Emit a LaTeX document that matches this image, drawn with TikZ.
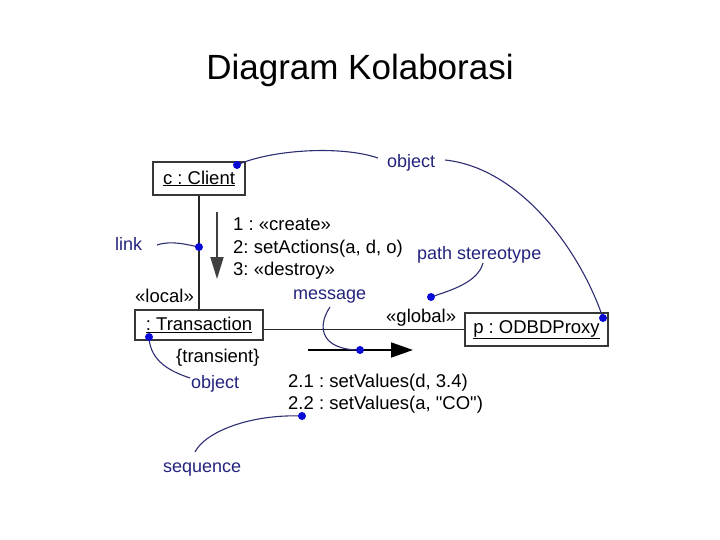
\documentclass[tikz,border=0pt]{standalone}
\usepackage{fontspec}
\setmainfont{Liberation Sans}
\usetikzlibrary{arrows.meta}
\definecolor{boxgray}{RGB}{55,55,55}
\definecolor{notecol}{RGB}{35,35,125}
\definecolor{curvecol}{RGB}{45,45,115}
\definecolor{dotcol}{RGB}{10,10,215}
\frenchspacing
\begin{document}
\begin{tikzpicture}[x=1pt,y=-1pt,
  objbox/.style={draw=boxgray, line width=1.3pt, inner sep=0pt, font=\fontsize{18.5}{22}\selectfont},
  note/.style={text=notecol, inner sep=0pt, font=\fontsize{18}{22}\selectfont},
  txt/.style={inner sep=0pt, font=\fontsize{18.5}{22}\selectfont},
  lnk/.style={line width=1.8pt, draw=black!85},
  ann/.style={draw=curvecol, line width=1.1pt},
  dotmark/.style={fill=dotcol}
]
\useasboundingbox (0,0) rectangle (720,540);
% title
\node[inner sep=0pt, anchor=base, font=\fontsize{35}{40}\selectfont] (title) at (360,80) {Diagram Kolaborasi};

% objects
\node[objbox, minimum width=92pt, minimum height=33pt] (client) at (199,178.5) {\underline{c : Client}};
\node[objbox, minimum width=128pt, minimum height=30pt] (trans) at (199,325) {\underline{: Transaction}};
\node[objbox, minimum width=143pt, minimum height=33pt] (proxy) at (536.5,329.5) {\underline{p : ODBDProxy}};

% links
\draw[lnk] (client.south) -- (trans.north);
\draw[lnk] (trans.east |- proxy.west) -- (proxy.west);

% message arrows
\coordinate (m1s) at (217,212);
\coordinate (m1e) at (217,279);
\draw[line width=1.8pt, draw=black!75, -{Triangle[length=22pt,width=13pt]}] (m1s) -- (m1e);
\coordinate (m2s) at (308,350);
\coordinate (m2e) at (413,350);
\draw[line width=1.8pt, -{Triangle[length=22pt,width=15pt]}] (m2s) -- (m2e);

% message texts
\node[txt, anchor=base west] (t1) at (233,230.5) {1 : «create»};
\node[txt, anchor=base west] (t2) at (233,253) {2: setActions(a, d, o)};
\node[txt, anchor=base west] (t3) at (233,275) {3: «destroy»};
\node[txt, anchor=base west] (t4) at (288,387) {2.1 : setValues(d, 3.4)};
\node[txt, anchor=base west] (t5) at (288,409) {2.2 : setValues(a, \textquotedbl CO\textquotedbl)};

% role / stereotype texts
\node[txt, anchor=base west] (local) at (135,302) {«local»};
\node[txt, anchor=base west] (global) at (386,322) {«global»};
\node[txt, anchor=base west] (transient) at (176,362) {\{transient\}};

% annotation labels
\node[note, anchor=base west] (objtop) at (387,168) {object};
\node[note, anchor=base west] (link) at (115,251) {link};
\node[note, anchor=base west] (path) at (417,259) {path stereotype};
\node[note, anchor=base west] (msg) at (293,299) {message};
\node[note, anchor=base west] (objlow) at (191,388) {object};
\node[note, anchor=base west] (seq) at (163,472) {sequence};

% dots
\coordinate (dclient) at (237,165);
\coordinate (dproxy) at (603,318);
\coordinate (dlink) at (199,247);
\coordinate (dpath) at (431,297);
\coordinate (dmsg) at (360,350);
\coordinate (dtrans) at (149,337);
\coordinate (dseq) at (302,416);

% free ends of annotation curves
\coordinate (eobjl) at (378,158);
\coordinate (eobjr) at (445,160);
\coordinate (elink) at (157,245);
\coordinate (epath) at (483,263);
\coordinate (emsg) at (330,307);
\coordinate (eobjlow) at (190,378);
\coordinate (eseq) at (195,452);

% annotation curves
\draw[ann] (dclient) .. controls (270,150) and (340,145) .. (eobjl);
\draw[ann] (eobjr) .. controls (520,168) and (580,250) .. (dproxy);
\draw[ann] (elink) .. controls (172,240) and (188,245) .. (dlink);
\draw[ann] (epath) .. controls (478,282) and (452,290) .. (dpath);
\draw[ann] (emsg) .. controls (316,328) and (322,350) .. (dmsg);
\draw[ann] (dtrans) .. controls (150,362) and (172,372) .. (eobjlow);
\draw[ann] (dseq) .. controls (250,414) and (205,432) .. (eseq);

\foreach \d in {dclient,dproxy,dlink,dpath,dmsg,dtrans,dseq}
  \fill[dotmark] (\d) circle (4pt);
\end{tikzpicture}
\end{document}
